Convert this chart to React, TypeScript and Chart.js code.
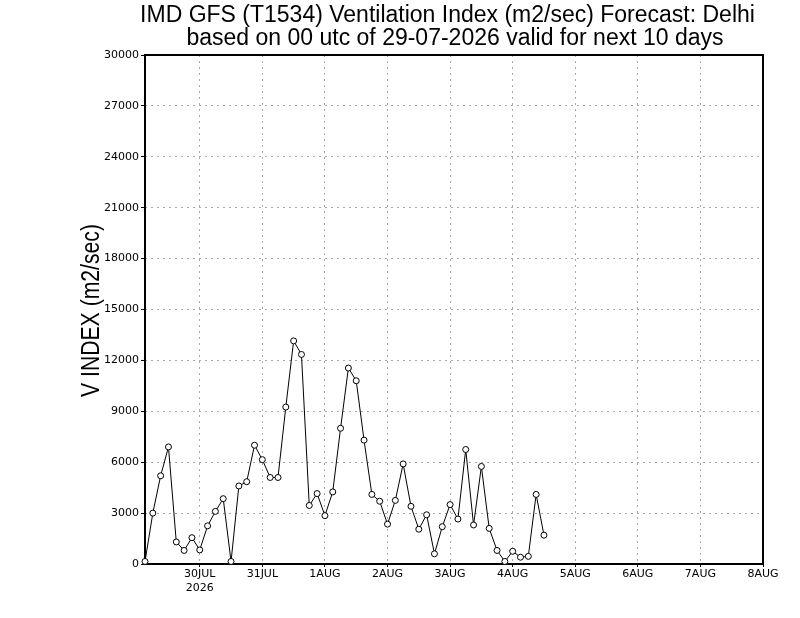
import React, { useEffect, useRef } from "react";
import { Chart, registerables } from "chart.js";

Chart.register(...registerables);

// Forecast hours since 29-07-2026 00 UTC
const forecastHours = [
  3, 6, 9, 12, 15, 18, 21, 24, 27, 30, 33, 36, 39, 42, 45, 48, 51, 54, 57, 60,
  63, 66, 69, 72, 75, 78, 81, 84, 87, 90, 93, 96, 99, 102, 105, 108, 111, 114,
  117, 120, 123, 126, 129, 132, 135, 138, 141, 144, 147, 150, 153, 156,
];

// Ventilation index (m2/sec)
const ventIndex = [
  150, 3000, 5200, 6900, 1300, 800, 1550, 830, 2250, 3100, 3850, 150, 4600,
  4850, 7000, 6150, 5100, 5100, 9250, 13150, 12350, 3450, 4150, 2850, 4250,
  8000, 11550, 10800, 7300, 4100, 3700, 2350, 3750, 5900, 3400, 2050, 2900, 600,
  2200, 3500, 2650, 6750, 2300, 5750, 2100, 800, 150, 750, 400, 450, 4100, 1700,
];

const xTickHours = [24, 48, 72, 96, 120, 144, 168, 192, 216, 240];
const xTickLabels = [
  ["30JUL", "2026"],
  "31JUL",
  "1AUG",
  "2AUG",
  "3AUG",
  "4AUG",
  "5AUG",
  "6AUG",
  "7AUG",
  "8AUG",
];

const titleLine1 = "IMD GFS (T1534) Ventilation Index (m2/sec) Forecast: Delhi";
const titleLine2 = "based on 00 utc of 29-07-2026 valid for next 10 days";
const yTitle = "V INDEX (m2/sec)";

const framePlugin = {
  id: "frame",
  beforeDatasetsDraw(chart: any) {
    const { ctx, chartArea } = chart;
    ctx.save();
    ctx.strokeStyle = "#000";
    ctx.lineWidth = 2;
    ctx.strokeRect(
      chartArea.left,
      chartArea.top,
      chartArea.right - chartArea.left,
      chartArea.bottom - chartArea.top
    );
    ctx.restore();
  },
  afterDraw(chart: any) {
    const { ctx } = chart;
    ctx.save();
    ctx.fillStyle = "#000";
    ctx.textAlign = "center";
    ctx.textBaseline = "alphabetic";
    ctx.font = "23px 'Liberation Sans', Arial, sans-serif";
    ctx.fillText(titleLine1, 447.5, 22, 619);
    ctx.fillText(titleLine2, 455, 45, 594);
    ctx.translate(99, 310.5);
    ctx.rotate(-Math.PI / 2);
    ctx.font = "26px 'Liberation Sans', Arial, sans-serif";
    ctx.fillText(yTitle, 0, 0, 173);
    ctx.restore();
  },
};

export default function App() {
  const ref = useRef<HTMLCanvasElement | null>(null);

  useEffect(() => {
    if (!ref.current) return;
    const tickFont = { family: "'DejaVu Sans', sans-serif", size: 11 };
    const chart = new Chart(ref.current, {
      type: "line",
      data: {
        datasets: [
          {
            data: forecastHours.map((h, i) => ({ x: h, y: ventIndex[i] })),
            borderColor: "#000",
            borderWidth: 1,
            backgroundColor: "#fff",
            pointBackgroundColor: "#fff",
            pointBorderColor: "#000",
            pointBorderWidth: 1,
            pointRadius: 3,
            tension: 0,
            fill: false,
            clip: false as any,
          },
        ],
      },
      options: {
        animation: false,
        responsive: false,
        maintainAspectRatio: false,
        layout: { padding: { left: 0, right: 37, top: 55, bottom: 0 } },
        plugins: {
          legend: { display: false },
          title: { display: false },
          tooltip: { enabled: false },
        },
        scales: {
          x: {
            type: "linear",
            min: 3,
            max: 240,
            afterBuildTicks(scale: any) {
              scale.ticks = xTickHours.map((v) => ({ value: v }));
            },
            afterFit(scale: any) {
              scale.height = 54;
            },
            ticks: {
              autoSkip: false,
              maxRotation: 0,
              color: "#000",
              font: tickFont,
              padding: 1,
              callback: (v: any) => {
                const i = xTickHours.indexOf(Number(v));
                return i >= 0 ? (xTickLabels[i] as any) : "";
              },
            },
            grid: {
              color: "#a8a8a8",
              lineWidth: 1,
              tickColor: "#000",
              tickLength: 3,
              drawTicks: true,
            },
            border: { display: false, dash: [2, 4] },
          },
          y: {
            min: 0,
            max: 30000,
            afterFit(scale: any) {
              scale.width = 145;
            },
            ticks: {
              stepSize: 3000,
              color: "#000",
              font: tickFont,
              padding: 2,
              callback: (v: any) => String(v),
            },
            grid: {
              color: "#a8a8a8",
              lineWidth: 1,
              tickColor: "#000",
              tickLength: 4,
              drawTicks: true,
            },
            border: { display: false, dash: [2, 4] },
          },
        },
      },
      plugins: [framePlugin],
    });
    return () => chart.destroy();
  }, []);

  return (
    <div style={{ position: "fixed", left: 0, top: 0, width: 800, height: 618, background: "#fff" }}>
      <canvas ref={ref} width={800} height={618} style={{ width: 800, height: 618 }} />
    </div>
  );
}
